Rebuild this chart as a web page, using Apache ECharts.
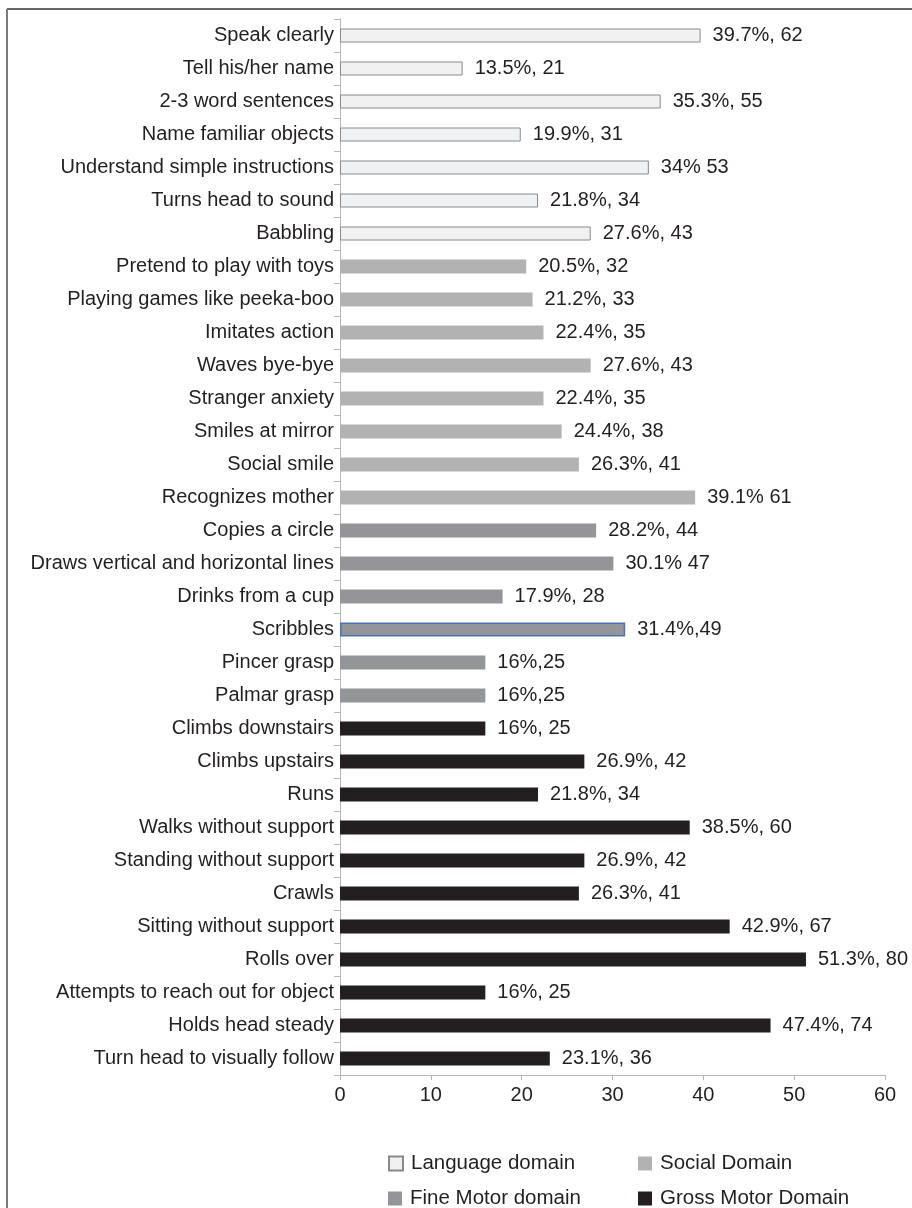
<!DOCTYPE html>
<html>
<head>
<meta charset="utf-8">
<script src="https://cdn.jsdelivr.net/npm/echarts@6/dist/echarts.min.js"></script>
<style>
html,body{margin:0;padding:0;background:#fff;}
#chart{width:912px;height:1208px;}
</style>
</head>
<body>
<div id="chart"></div>
<script>
// ---- data ----
const domains = ['Language domain', 'Social Domain', 'Fine Motor domain', 'Gross Motor Domain'];

const languageCategories = ['Speak clearly', 'Tell his/her name', '2-3 word sentences', 'Name familiar objects', 'Understand simple instructions', 'Turns head to sound', 'Babbling'];
const languageValues = [39.7, 13.5, 35.3, 19.9, 34, 21.8, 27.6];
const languageLabels = ['39.7%, 62', '13.5%, 21', '35.3%, 55', '19.9%, 31', '34% 53', '21.8%, 34', '27.6%, 43'];

const socialCategories = ['Pretend to play with toys', 'Playing games like peeka-boo', 'Imitates action', 'Waves bye-bye', 'Stranger anxiety', 'Smiles at mirror', 'Social smile', 'Recognizes mother'];
const socialValues = [20.5, 21.2, 22.4, 27.6, 22.4, 24.4, 26.3, 39.1];
const socialLabels = ['20.5%, 32', '21.2%, 33', '22.4%, 35', '27.6%, 43', '22.4%, 35', '24.4%, 38', '26.3%, 41', '39.1% 61'];

const fineCategories = ['Copies a circle', 'Draws vertical and horizontal lines', 'Drinks from a cup', 'Scribbles', 'Pincer grasp', 'Palmar grasp'];
const fineValues = [28.2, 30.1, 17.9, 31.4, 16, 16];
const fineLabels = ['28.2%, 44', '30.1% 47', '17.9%, 28', '31.4%,49', '16%,25', '16%,25'];

const grossCategories = ['Climbs downstairs', 'Climbs upstairs', 'Runs', 'Walks without support', 'Standing without support', 'Crawls', 'Sitting without support', 'Rolls over', 'Attempts to reach out for object', 'Holds head steady', 'Turn head to visually follow'];
const grossValues = [16, 26.9, 21.8, 38.5, 26.9, 26.3, 42.9, 51.3, 16, 47.4, 23.1];
const grossLabels = ['16%, 25', '26.9%, 42', '21.8%, 34', '38.5%, 60', '26.9%, 42', '26.3%, 41', '42.9%, 67', '51.3%, 80', '16%, 25', '47.4%, 74', '23.1%, 36'];

const xTicks = [0, 10, 20, 30, 40, 50, 60];

// ---- build ----
const groups = [
  {cats: languageCategories, vals: languageValues, labels: languageLabels, color: '#f0f1f3', border: '#8a8a8a', bw: 1},
  {cats: socialCategories, vals: socialValues, labels: socialLabels, color: '#b1b2b4', border: '#b1b2b4', bw: 0},
  {cats: fineCategories, vals: fineValues, labels: fineLabels, color: '#939598', border: '#939598', bw: 0},
  {cats: grossCategories, vals: grossValues, labels: grossLabels, color: '#231f20', border: '#231f20', bw: 0}
];
const allCategories = [].concat(...groups.map(g => g.cats));
const textColor = '#231f20';
const font = 'Liberation Sans, Arial, Helvetica, sans-serif';

const series = groups.map((g, gi) => {
  const data = allCategories.map(c => {
    const i = g.cats.indexOf(c);
    if (i < 0) return '-';
    const item = {value: g.vals[i], label: {formatter: g.labels[i]}};
    if (c === 'Scribbles') item.itemStyle = {borderColor: '#4a72b8', borderWidth: 1.5};
    return item;
  });
  return {
    name: domains[gi],
    type: 'bar',
    barWidth: 14,
    barGap: '-100%',
    data: data,
    itemStyle: {color: g.color, borderColor: g.border, borderWidth: g.bw},
    label: {show: true, position: 'right', distance: 12, color: textColor, fontSize: 20, fontFamily: font},
    emphasis: {disabled: true},
    animation: false
  };
});

// legend placement: [left, top] for each domain
const legendPos = [[388, 1153], [638, 1153], [388, 1188], [638, 1188]];
const legends = domains.map((d, i) => ({
  data: [d], orient: 'horizontal', left: legendPos[i][0], top: legendPos[i][1],
  padding: 0, itemWidth: 14, itemHeight: 14, icon: 'rect',
  textStyle: {color: textColor, fontSize: 20.5, fontFamily: font, padding: [0, 0, 0, 3]},
  selectedMode: false
}));

const chart = echarts.init(document.getElementById('chart'), null, {renderer: 'canvas'});
chart.setOption({
  backgroundColor: '#ffffff',
  animation: false,
  grid: {left: 340, right: 27, top: 19, bottom: 133, containLabel: false},
  xAxis: {
    type: 'value', min: xTicks[0], max: xTicks[xTicks.length - 1], interval: 10,
    axisLine: {show: true, lineStyle: {color: '#b5b5b5', width: 1}},
    axisTick: {show: true, length: 5, lineStyle: {color: '#b5b5b5'}},
    splitLine: {show: false},
    axisLabel: {color: textColor, fontSize: 20, fontFamily: font, margin: 10}
  },
  yAxis: {
    type: 'category', data: allCategories, inverse: true,
    axisLine: {show: true, lineStyle: {color: '#b5b5b5', width: 1}},
    axisTick: {show: true, length: 6, alignWithLabel: false, lineStyle: {color: '#b5b5b5'}},
    axisLabel: {color: textColor, fontSize: 20, fontFamily: font, margin: 6, interval: 0}
  },
  legend: legends,
  graphic: [
    {type: 'line', shape: {x1: 7, y1: 9, x2: 912, y2: 9}, style: {stroke: '#333333', lineWidth: 1.5}, silent: true},
    {type: 'line', shape: {x1: 7, y1: 9, x2: 7, y2: 1208}, style: {stroke: '#7a7a7a', lineWidth: 2}, silent: true}
  ],
  series: series
});
</script>
</body>
</html>
